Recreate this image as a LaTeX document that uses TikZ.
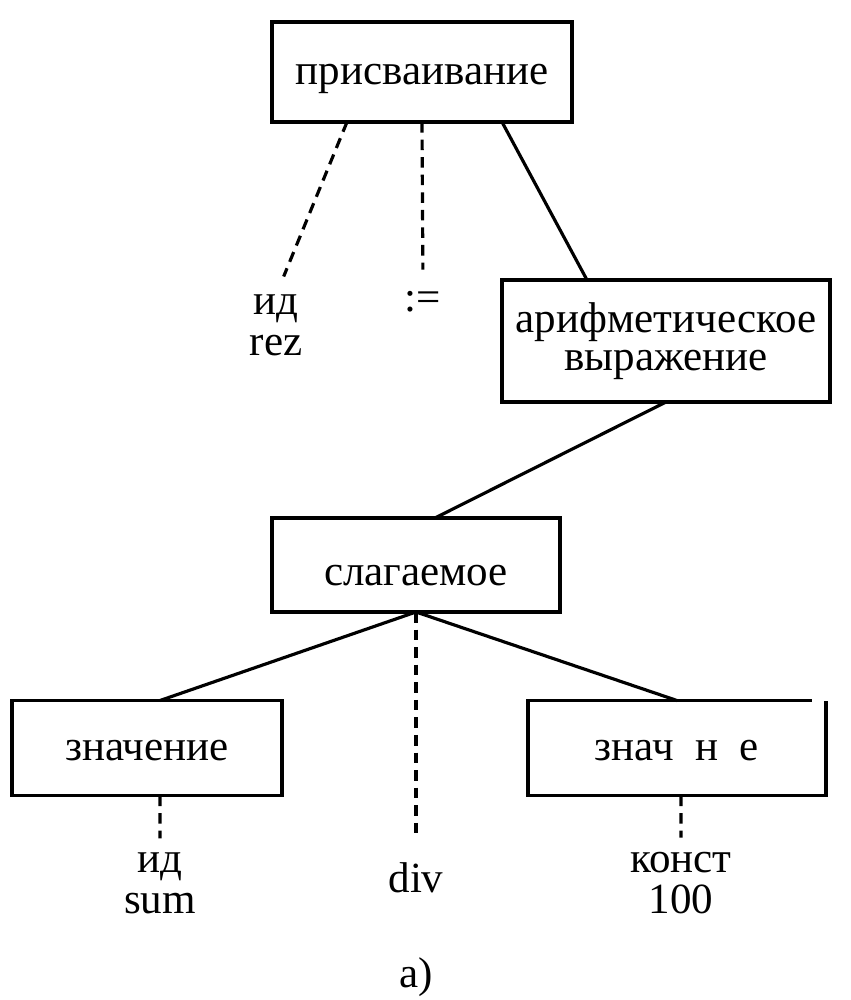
\documentclass[tikz,border=0pt]{standalone}
\usepackage{fontspec}
\setmainfont{Liberation Serif}

\tikzset{
  box/.style={draw=black, line width=1.8pt, rectangle, inner sep=0pt, outer sep=0pt,
    font=\fontsize{24.5}{22}\selectfont},
  oneline/.style={text height=19.6pt, text depth=4.9pt},
  leaf/.style={anchor=base, inner sep=0pt, outer sep=0pt, align=center,
    font=\fontsize{24.5}{22.8}\selectfont},
  dashline/.style={draw=black, line width=1.8pt, dash pattern=on 6pt off 4pt},
  solidline/.style={draw=black, line width=1.8pt}
}

\begin{document}
\begin{tikzpicture}[x=0.02cm, y=-0.02cm]
\useasboundingbox (0,0) rectangle (850,1000);
% boxes
\node[box, oneline, minimum width=6cm, minimum height=2cm] (T1Nassign) at (422,72) {присваивание};
\node[box, align=center, minimum width=6.56cm, minimum height=2.44cm] (T1Narith) at (666,341) {арифметическое\\выражение};
\node[box, text height=22.8pt, text depth=0pt, minimum width=5.76cm, minimum height=1.88cm] (T1Nterm) at (416,565) {слагаемое};
\node[box, oneline, minimum width=5.4cm, minimum height=1.9cm] (T1Nval1) at (147,748) {значение};
\node[box, oneline, draw=none, minimum width=5.96cm, minimum height=1.9cm] (T1Nval2) at (677,748) {знач\ \ н\ \ е};
\draw[solidline] ([xshift=-0.28cm]T1Nval2.north east) -- (T1Nval2.north west) -- (T1Nval2.south west) -- (T1Nval2.south east) -- (T1Nval2.north east);
% leaves
\node[leaf] (T1Lrez) at (276,355) {ид\\rez};
\node[leaf] (T1Lassignop) at (423,311) {:=};
\node[leaf] (T1Lsum) at (160,913) {ид\\sum};
\node[leaf] (T1Ldiv) at (416,892) {div};
\node[leaf] (T1Lconst) at (681,913) {конст\\100};
\node[leaf] (T1Lcap) at (416,987) {а)};
% connectors
\draw[dashline, shorten >=11.5pt] ([xshift=-1.5cm]T1Nassign.south) -- (T1Lrez.north);
\draw[dashline, shorten >=12pt] (T1Nassign.south) -- (T1Lassignop.north);
\draw[solidline] ([xshift=1.6cm]T1Nassign.south) -- ([xshift=-1.58cm]T1Narith.north);
\draw[solidline] (T1Narith.south) -- ([xshift=0.38cm]T1Nterm.north);
\draw[solidline] (T1Nterm.south) -- ([xshift=0.26cm]T1Nval1.north);
\draw[solidline] (T1Nterm.south) -- (T1Nval2.north);
\draw[dashline, shorten >=12.5pt] (T1Nterm.south) -- (T1Ldiv.north);
\draw[dashline, shorten >=8.5pt] ([xshift=0.26cm]T1Nval1.south) -- (T1Lsum.north);
\draw[dashline, shorten >=8.5pt] ([xshift=0.08cm]T1Nval2.south) -- (T1Lconst.north);
\end{tikzpicture}
\end{document}
